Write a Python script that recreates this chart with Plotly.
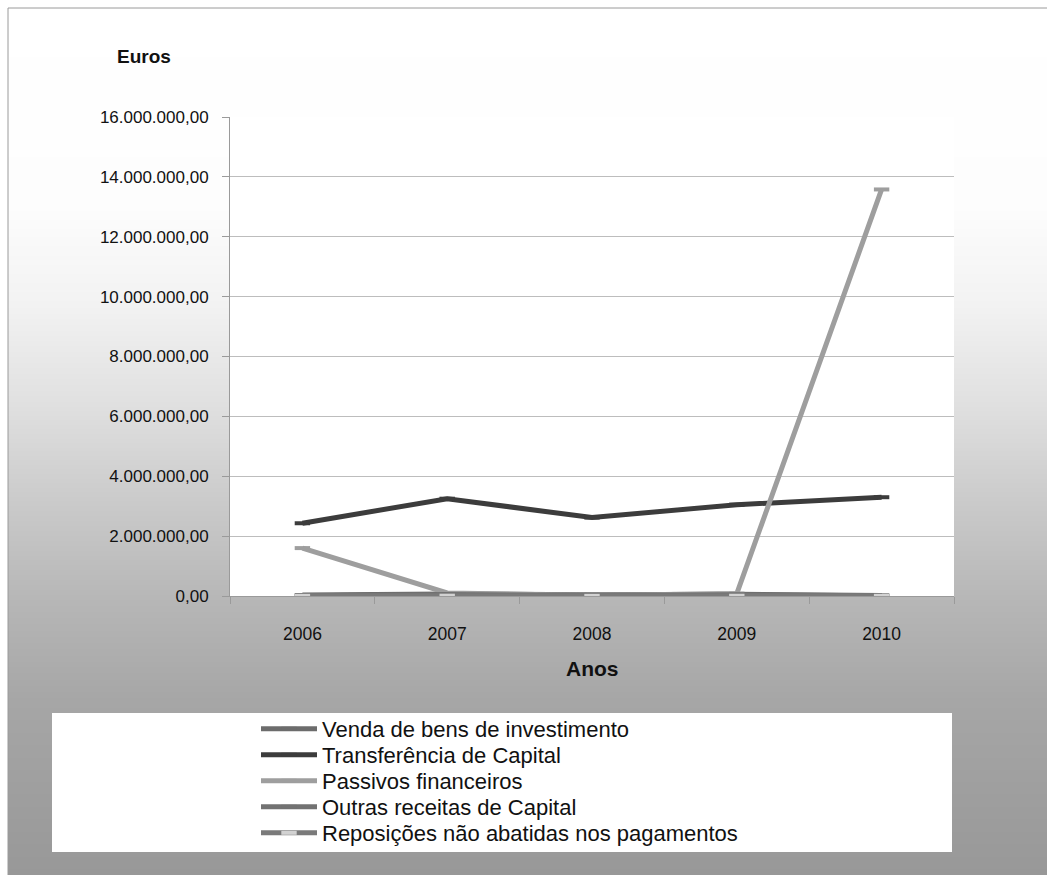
import base64
import struct
import zlib

import numpy as np
import plotly.graph_objects as go

# ---- data -------------------------------------------------------------
anos = ["2006", "2007", "2008", "2009", "2010"]

venda_bens = [30000, 70000, 40000, 60000, 20000]
transferencia = [2430000, 3250000, 2620000, 3050000, 3300000]
passivos = [1600000, 100000, 20000, 80000, 13580000]
outras_receitas = [10000, 50000, 20000, 40000, 10000]
reposicoes = [5000, 10000, 5000, 8000, 5000]

series_names = [
    "Venda de bens de investimento",
    "Transferência de Capital",
    "Passivos financeiros",
    "Outras receitas de Capital",
    "Reposições não abatidas nos pagamentos",
]
series_values = [venda_bens, transferencia, passivos, outras_receitas, reposicoes]
series_colors = ["#6c6c6c", "#3c3c3c", "#9e9e9e", "#727272", "#7a7a7a"]
marker_colors = ["#6c6c6c", "#3c3c3c", "#9e9e9e", "#727272", "#d2d2d2"]

y_ticks = list(range(0, 16000001, 2000000))

# ---- geometry (pixels) -------------------------------------------------
W, H = 1047, 875
PL, PR, PT, PB = 230, 954, 117, 596  # plot area edges
pw, ph = PR - PL, PB - PT


def px(xp):
    return (xp - PL) / pw


def py(yp):
    return (PB - yp) / ph


# ---- background gradient as an inline PNG -----------------------------
def gray_png(col_values, width=4):
    rows = b"".join(b"\x00" + bytes([int(v)] * width) for v in col_values)

    def chunk(tag, data):
        return (struct.pack(">I", len(data)) + tag + data
                + struct.pack(">I", zlib.crc32(tag + data) & 0xFFFFFFFF))

    ihdr = struct.pack(">IIBBBBB", width, len(col_values), 8, 0, 0, 0, 0)
    png = (b"\x89PNG\r\n\x1a\n" + chunk(b"IHDR", ihdr)
           + chunk(b"IDAT", zlib.compress(rows, 9)) + chunk(b"IEND", b""))
    return "data:image/png;base64," + base64.b64encode(png).decode()


rows_y = np.arange(H)
stops_y = [0, 200, 300, 400, 500, 600, 700, 875]
stops_v = [255, 253, 242, 224, 202, 182, 166, 152]
bg = gray_png(np.interp(rows_y, stops_y, stops_v).round())

FONT = "Liberation Sans, Arial, sans-serif"

# one legend per series so each row sits at its own height
legend_ids = ["legend", "legend2", "legend3", "legend4", "legend5"]
legend_rows = [729, 755, 781, 807, 833]

fig = go.Figure()
for name, vals, lc, mc, lid in zip(series_names, series_values, series_colors,
                                   marker_colors, legend_ids):
    fig.add_trace(go.Scatter(
        x=anos, y=vals, name=name, mode="lines+markers",
        line=dict(color=lc, width=5),
        marker=dict(symbol="line-ew", size=11, color=mc,
                    line=dict(color=mc, width=4)),
        legend=lid,
    ))

legend_layout = {
    lid: dict(
        x=px(256), y=py(row), xanchor="left", yanchor="middle",
        bgcolor="rgba(0,0,0,0)", borderwidth=0,
        font=dict(size=22, family=FONT, color="#111111"),
        itemwidth=56,
    )
    for lid, row in zip(legend_ids, legend_rows)
}

fig.update_layout(
    width=W, height=H,
    margin=dict(l=PL, r=W - PR, t=PT, b=H - PB, pad=0, autoexpand=False),
    paper_bgcolor="white", plot_bgcolor="white",
    separators=",.",
    font=dict(family=FONT, size=17, color="#111111"),
    showlegend=True,
    images=[dict(source=bg, xref="paper", yref="paper",
                 x=px(8), y=py(8), sizex=(W - 8) / pw, sizey=(H - 8) / ph,
                 sizing="stretch", xanchor="left", yanchor="top", layer="below")],
    shapes=[
        # chart frame
        dict(type="rect", xref="paper", yref="paper", layer="below",
             x0=px(8), x1=px(W + 5), y0=py(H + 5), y1=py(8),
             line=dict(color="#9a9a9a", width=1), fillcolor="rgba(0,0,0,0)"),
        # plot area
        dict(type="rect", xref="x domain", yref="y domain", layer="below",
             x0=0, x1=1, y0=0, y1=1, line=dict(width=0), fillcolor="white"),
        # legend box
        dict(type="rect", xref="paper", yref="paper", layer="below",
             x0=px(52), x1=px(952), y0=py(852), y1=py(713),
             line=dict(width=0), fillcolor="white"),
    ],
    annotations=[
        dict(text="<b>Euros</b>", xref="paper", yref="paper", x=px(144), y=py(57),
             showarrow=False, xanchor="center", yanchor="middle",
             font=dict(size=19, family=FONT, color="#111111")),
        dict(text="<b>Anos</b>", xref="paper", yref="paper", x=px(592), y=py(668),
             showarrow=False, xanchor="center", yanchor="middle",
             font=dict(size=21, family=FONT, color="#111111")),
    ],
    **legend_layout,
)

fig.update_xaxes(
    type="category", range=[-0.5, 4.5], tickson="boundaries",
    ticks="outside", ticklen=7, tickcolor="#9a9a9a",
    showline=True, linecolor="#9a9a9a", linewidth=1,
    showgrid=False, zeroline=False, ticklabelstandoff=22,
    tickfont=dict(size=17.5, family=FONT, color="#111111"),
)
fig.update_yaxes(
    range=[0, 16000000], tickvals=y_ticks, tickformat=",.2f",
    ticks="outside", ticklen=7, tickcolor="#9a9a9a",
    showline=True, linecolor="#9a9a9a", linewidth=1,
    showgrid=True, gridcolor="#bdbdbd", gridwidth=1, zeroline=False,
    ticklabelstandoff=10,
    tickfont=dict(size=17, family=FONT, color="#111111"),
)

fig.write_html("out.html")
